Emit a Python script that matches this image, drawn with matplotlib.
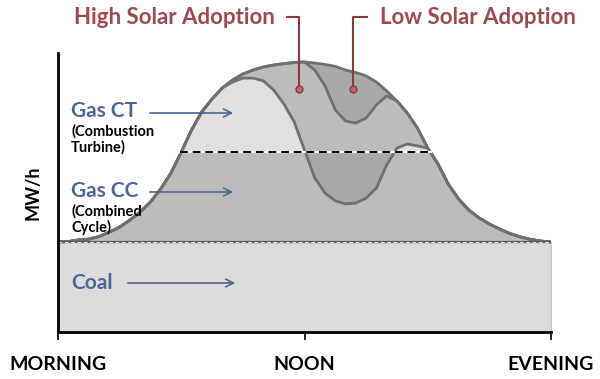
import matplotlib
matplotlib.use("Agg")
import matplotlib.pyplot as plt
import numpy as np

# hours after morning (0 = morning, 6 = noon, 12 = evening)
hours = np.arange(0, 12.01, 0.25)

# total demand (outer curve)
demand = [32.3, 32.4, 33.0, 33.3, 34.2, 35.8, 37.6, 40.1, 43.0, 46.6, 51.3, 57.0,
          64.5, 72.4, 78.9, 83.5, 87.5, 90.3, 92.5, 93.9, 95.0, 95.7, 96.2, 96.6,
          96.8, 96.4, 95.9, 95.2, 93.9, 93.0, 91.8, 89.6, 86.4, 82.8, 78.5, 73.1,
          65.9, 60.2, 53.0, 47.7, 43.7, 40.9, 38.7, 36.9, 35.3, 34.1, 33.2, 32.6, 32.3]

# net demand with high solar adoption
high_solar = [32.3, 32.4, 33.0, 33.3, 34.2, 35.8, 37.6, 40.1, 43.0, 46.6, 51.3, 57.0,
              64.5, 72.4, 78.9, 83.5, 87.5, 89.6, 91.0, 91.0, 90.0, 86.7, 81.7, 75.3,
              65.2, 55.2, 49.8, 47.0, 45.9, 46.2, 48.0, 51.6, 59.9, 65.9, 67.4, 66.7,
              65.9, 60.2, 53.0, 47.7, 43.7, 40.9, 38.7, 36.9, 35.3, 34.1, 33.2, 32.6, 32.3]

# net demand with low solar adoption
low_solar = [32.3, 32.4, 33.0, 33.3, 34.2, 35.8, 37.6, 40.1, 43.0, 46.6, 51.3, 57.0,
             64.5, 72.4, 78.9, 83.5, 87.5, 90.3, 92.5, 93.9, 95.0, 95.7, 96.2, 96.6,
             96.8, 93.9, 88.2, 79.6, 75.6, 74.9, 76.7, 81.4, 84.6, 82.8, 78.5, 73.1,
             65.9, 60.2, 53.0, 47.7, 43.7, 40.9, 38.7, 36.9, 35.3, 34.1, 33.2, 32.6, 32.3]

coal_level = 32.3
ct_level = 64.5

x_ticks = [0, 6, 12]
x_labels = ["MORNING", "NOON", "EVENING"]

demand = np.array(demand)
high_solar = np.array(high_solar)
low_solar = np.array(low_solar)

plt.rcParams['font.family'] = ['Lato', 'DejaVu Sans']

W, H = 600, 379
fig = plt.figure(figsize=(6, 3.79), dpi=100)
ax = fig.add_axes([58 / W, 1 - 332 / H, 493 / W, 279 / H])
ax.set_xlim(0, 12)
ax.set_ylim(0, 100)

curve_col = '#6f6f6f'

# coal block
ax.fill_between([0, 12], 0, coal_level, color='#dcdcdc', edgecolor='#c4c4c4', lw=1)
# gas block
ax.fill_between(hours, coal_level, demand, color='#bcbcbc', lw=0)
# gas CT (above the dashed line)
ax.fill_between(hours, ct_level, high_solar, where=high_solar >= ct_level,
                interpolate=True, color='#e0e0e0', lw=0)
# trough under the dashed line
ax.fill_between(hours, high_solar, ct_level,
                where=(high_solar < ct_level) & (demand > ct_level),
                interpolate=True, color='#a8a8a8', lw=0)
# low solar band
ax.fill_between(hours, low_solar, demand, where=low_solar < demand,
                interpolate=True, color='#a9a9a9', lw=0)

ax.plot(hours, demand, color=curve_col, lw=2, solid_capstyle='round')
ax.plot(hours, high_solar, color=curve_col, lw=2)
ax.plot(hours, low_solar, color=curve_col, lw=2)

# dashed divider lines
ax.plot([2.98, 9.08], [ct_level, ct_level], color='white', lw=1.6)
ax.plot([2.98, 9.08], [ct_level, ct_level], color='black', lw=1.4, dashes=(4, 2.5))
ax.plot([0, 12], [coal_level, coal_level], color='#5a5a5a', lw=1.6)
ax.plot([0, 12], [coal_level, coal_level], color='#e8e8e8', lw=0.7, dashes=(4, 2.5))

for s in ['top', 'right']:
    ax.spines[s].set_visible(False)
ax.spines['left'].set_linewidth(2)
ax.spines['bottom'].set_linewidth(2)
ax.spines['bottom'].set_bounds(0, 12)
ax.set_yticks([])
ax.set_xticks(x_ticks)
ax.set_xticklabels(x_labels, fontsize=14, fontweight='bold')
ax.tick_params(axis='x', direction='out', length=6, width=1.2, pad=11)
ax.set_ylabel('MW/h', fontsize=13, fontweight='bold', labelpad=12)

blue = '#4d6692'
red = '#9c4a50'


def fp(px, py):
    return px / W, 1 - py / H


# left labels
fig.text(*fp(71, 111), 'Gas CT', color=blue, fontsize=15, fontweight='bold', va='center')
fig.text(*fp(71, 131), '(Combustion', color='black', fontsize=10.5, fontweight='bold', va='center')
fig.text(*fp(71, 147), 'Turbine)', color='black', fontsize=10.5, fontweight='bold', va='center')
fig.text(*fp(71, 191), 'Gas CC', color=blue, fontsize=15, fontweight='bold', va='center')
fig.text(*fp(71, 211), '(Combined', color='black', fontsize=10.5, fontweight='bold', va='center')
fig.text(*fp(71, 227), 'Cycle)', color='black', fontsize=10.5, fontweight='bold', va='center')
fig.text(*fp(71, 283), 'Coal', color=blue, fontsize=15, fontweight='bold', va='center')

arrow = dict(arrowstyle='->', color=blue, lw=1.2, mutation_scale=14)
for x0, x1, y in [(147, 236, 113), (147, 236, 192), (125, 238, 283)]:
    ax.annotate('', xy=(x1, H - y), xytext=(x0, H - y),
                xycoords='figure pixels', textcoords='figure pixels', arrowprops=arrow)

# solar adoption callouts
fig.text(*fp(174, 17), 'High Solar Adoption', color=red, fontsize=16, fontweight='bold',
         ha='center', va='center')
fig.text(*fp(478, 17), 'Low Solar Adoption', color=red, fontsize=16, fontweight='bold',
         ha='center', va='center')
for xs, ys in [([287, 299, 299], [17, 17, 89]), ([367, 353, 353], [17, 17, 89])]:
    fig.add_artist(plt.Line2D([x / W for x in xs], [1 - y / H for y in ys],
                              color='#8a3a40', lw=1.5))
    fig.add_artist(plt.Line2D([xs[-1] / W], [1 - ys[-1] / H], marker='o', markersize=5,
                              markerfacecolor='#c0656b', markeredgecolor='#8a3a40', lw=0))

fig.savefig('out.png', dpi=100)
